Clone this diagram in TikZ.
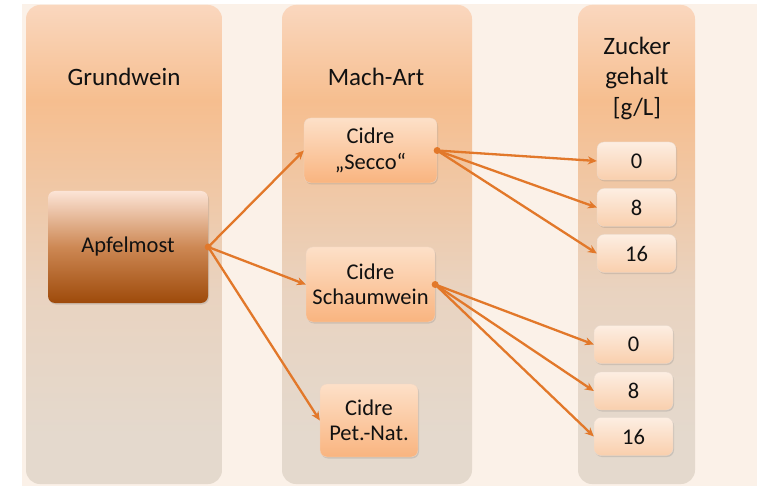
\documentclass[tikz,border=0pt]{standalone}
\usepackage{fontspec}
\setmainfont{Carlito}
\usetikzlibrary{arrows.meta,shadows}

\definecolor{cream}{HTML}{FBF1E8}
\definecolor{ptop}{HTML}{FAD7BE}
\definecolor{pmid}{HTML}{F6BE8F}
\definecolor{plow}{HTML}{E9D3C0}
\definecolor{pbot}{HTML}{E4D9CD}
\definecolor{ctop}{HTML}{FDE0C8}
\definecolor{cbot}{HTML}{F9B47F}
\definecolor{stop}{HTML}{FDEEE2}
\definecolor{sbot}{HTML}{F9CFAD}
\definecolor{atop}{HTML}{FCE4D6}
\definecolor{amid}{HTML}{CD8854}
\definecolor{abot}{HTML}{9E4A0A}
\definecolor{link}{HTML}{E2782A}
\definecolor{txt}{HTML}{111111}

% column panel: peach at the top, orange band below the heading, grey-beige further down
\pgfdeclareverticalshading{panelshade}{100bp}{%
  color(0bp)=(pbot); color(30bp)=(pbot); color(45bp)=(plow);
  color(65bp)=(pmid); color(75bp)=(ptop); color(100bp)=(ptop)}
% base wine box: pale at the top, darkening to brown
\pgfdeclareverticalshading{mostshade}{100bp}{%
  color(0bp)=(abot); color(25bp)=(abot); color(50bp)=(amid);
  color(75bp)=(atop); color(100bp)=(atop)}

\tikzset{
  panel/.style={shading=panelshade, rounded corners=14pt},
  heading/.style={font=\fontsize{25}{30.5}\selectfont, text=txt, align=center},
  boxbase/.style={rectangle, rounded corners=7pt, align=center, text=txt,
    font=\fontsize{22.5}{25.5}\selectfont, inner sep=0pt,
    drop shadow={opacity=0.25, shadow xshift=1pt, shadow yshift=-1.5pt}},
  basebox/.style={boxbase, shading=mostshade,
    minimum width=160pt, minimum height=112pt},
  kindbox/.style={boxbase, top color=ctop, bottom color=cbot,
    draw=cbot!85!black!40, line width=0.3pt},
  sugarbox/.style={boxbase, top color=stop, bottom color=sbot,
    draw=sbot!80!black!40, line width=0.3pt,
    minimum width=79pt, minimum height=38pt},
  link/.style={draw=link, line width=2.3pt, -{Stealth[length=9pt,width=8pt]}},
  linkdot/.style={fill=link},
}

\begin{document}
\begin{tikzpicture}[x=1pt, y=-1pt]
  \useasboundingbox (0,0) rectangle (757,486);
  \fill[white] (0,0) rectangle (757,486);
  \fill[cream] (22,4) rectangle (757,486);

  % columns
  \path[panel] (26,5) rectangle (222,484);
  \path[panel] (282,5) rectangle (472,484);
  \path[panel] (578,5) rectangle (695,484);

  % headings
  \node[heading] (h1) at (124,77) {Grundwein};
  \node[heading] (h2) at (376,77) {Mach-Art};
  \node[heading] (h3) at (637,78) {Zucker\\gehalt\\{[g/L]}};

  % base wine
  \node[basebox] (most) at (128,247) {Apfelmost};

  % kinds of cider
  \node[kindbox, minimum width=133pt, minimum height=65pt] (secco) at (370.5,150.5) {Cidre\\„Secco“};
  \node[kindbox, minimum width=129pt, minimum height=75pt] (schaum) at (370.5,284.5) {Cidre\\Schaumwein};
  \node[kindbox, minimum width=98pt, minimum height=73pt] (petnat) at (369,420.5) {Cidre\\Pet.-Nat.};

  % sugar content
  \node[sugarbox] (sa0) at (636.5,161) {0};
  \node[sugarbox] (sa8) at (636.5,207.5) {8};
  \node[sugarbox] (sa16) at (636.5,253.5) {16};
  \node[sugarbox] (sb0) at (633.5,344.5) {0};
  \node[sugarbox] (sb8) at (633.5,391) {8};
  \node[sugarbox] (sb16) at (633.5,436.5) {16};

  % connectors
  \foreach \t in {secco,schaum,petnat}
    \draw[link] (most.east) -- (\t.west);
  \foreach \t in {sa0,sa8,sa16}
    \draw[link] (secco.east) -- (\t.west);
  \foreach \t in {sb0,sb8,sb16}
    \draw[link] (schaum.east) -- (\t.west);
  \foreach \s in {most,secco,schaum}
    \fill[linkdot] (\s.east) circle (3.5pt);
\end{tikzpicture}
\end{document}
